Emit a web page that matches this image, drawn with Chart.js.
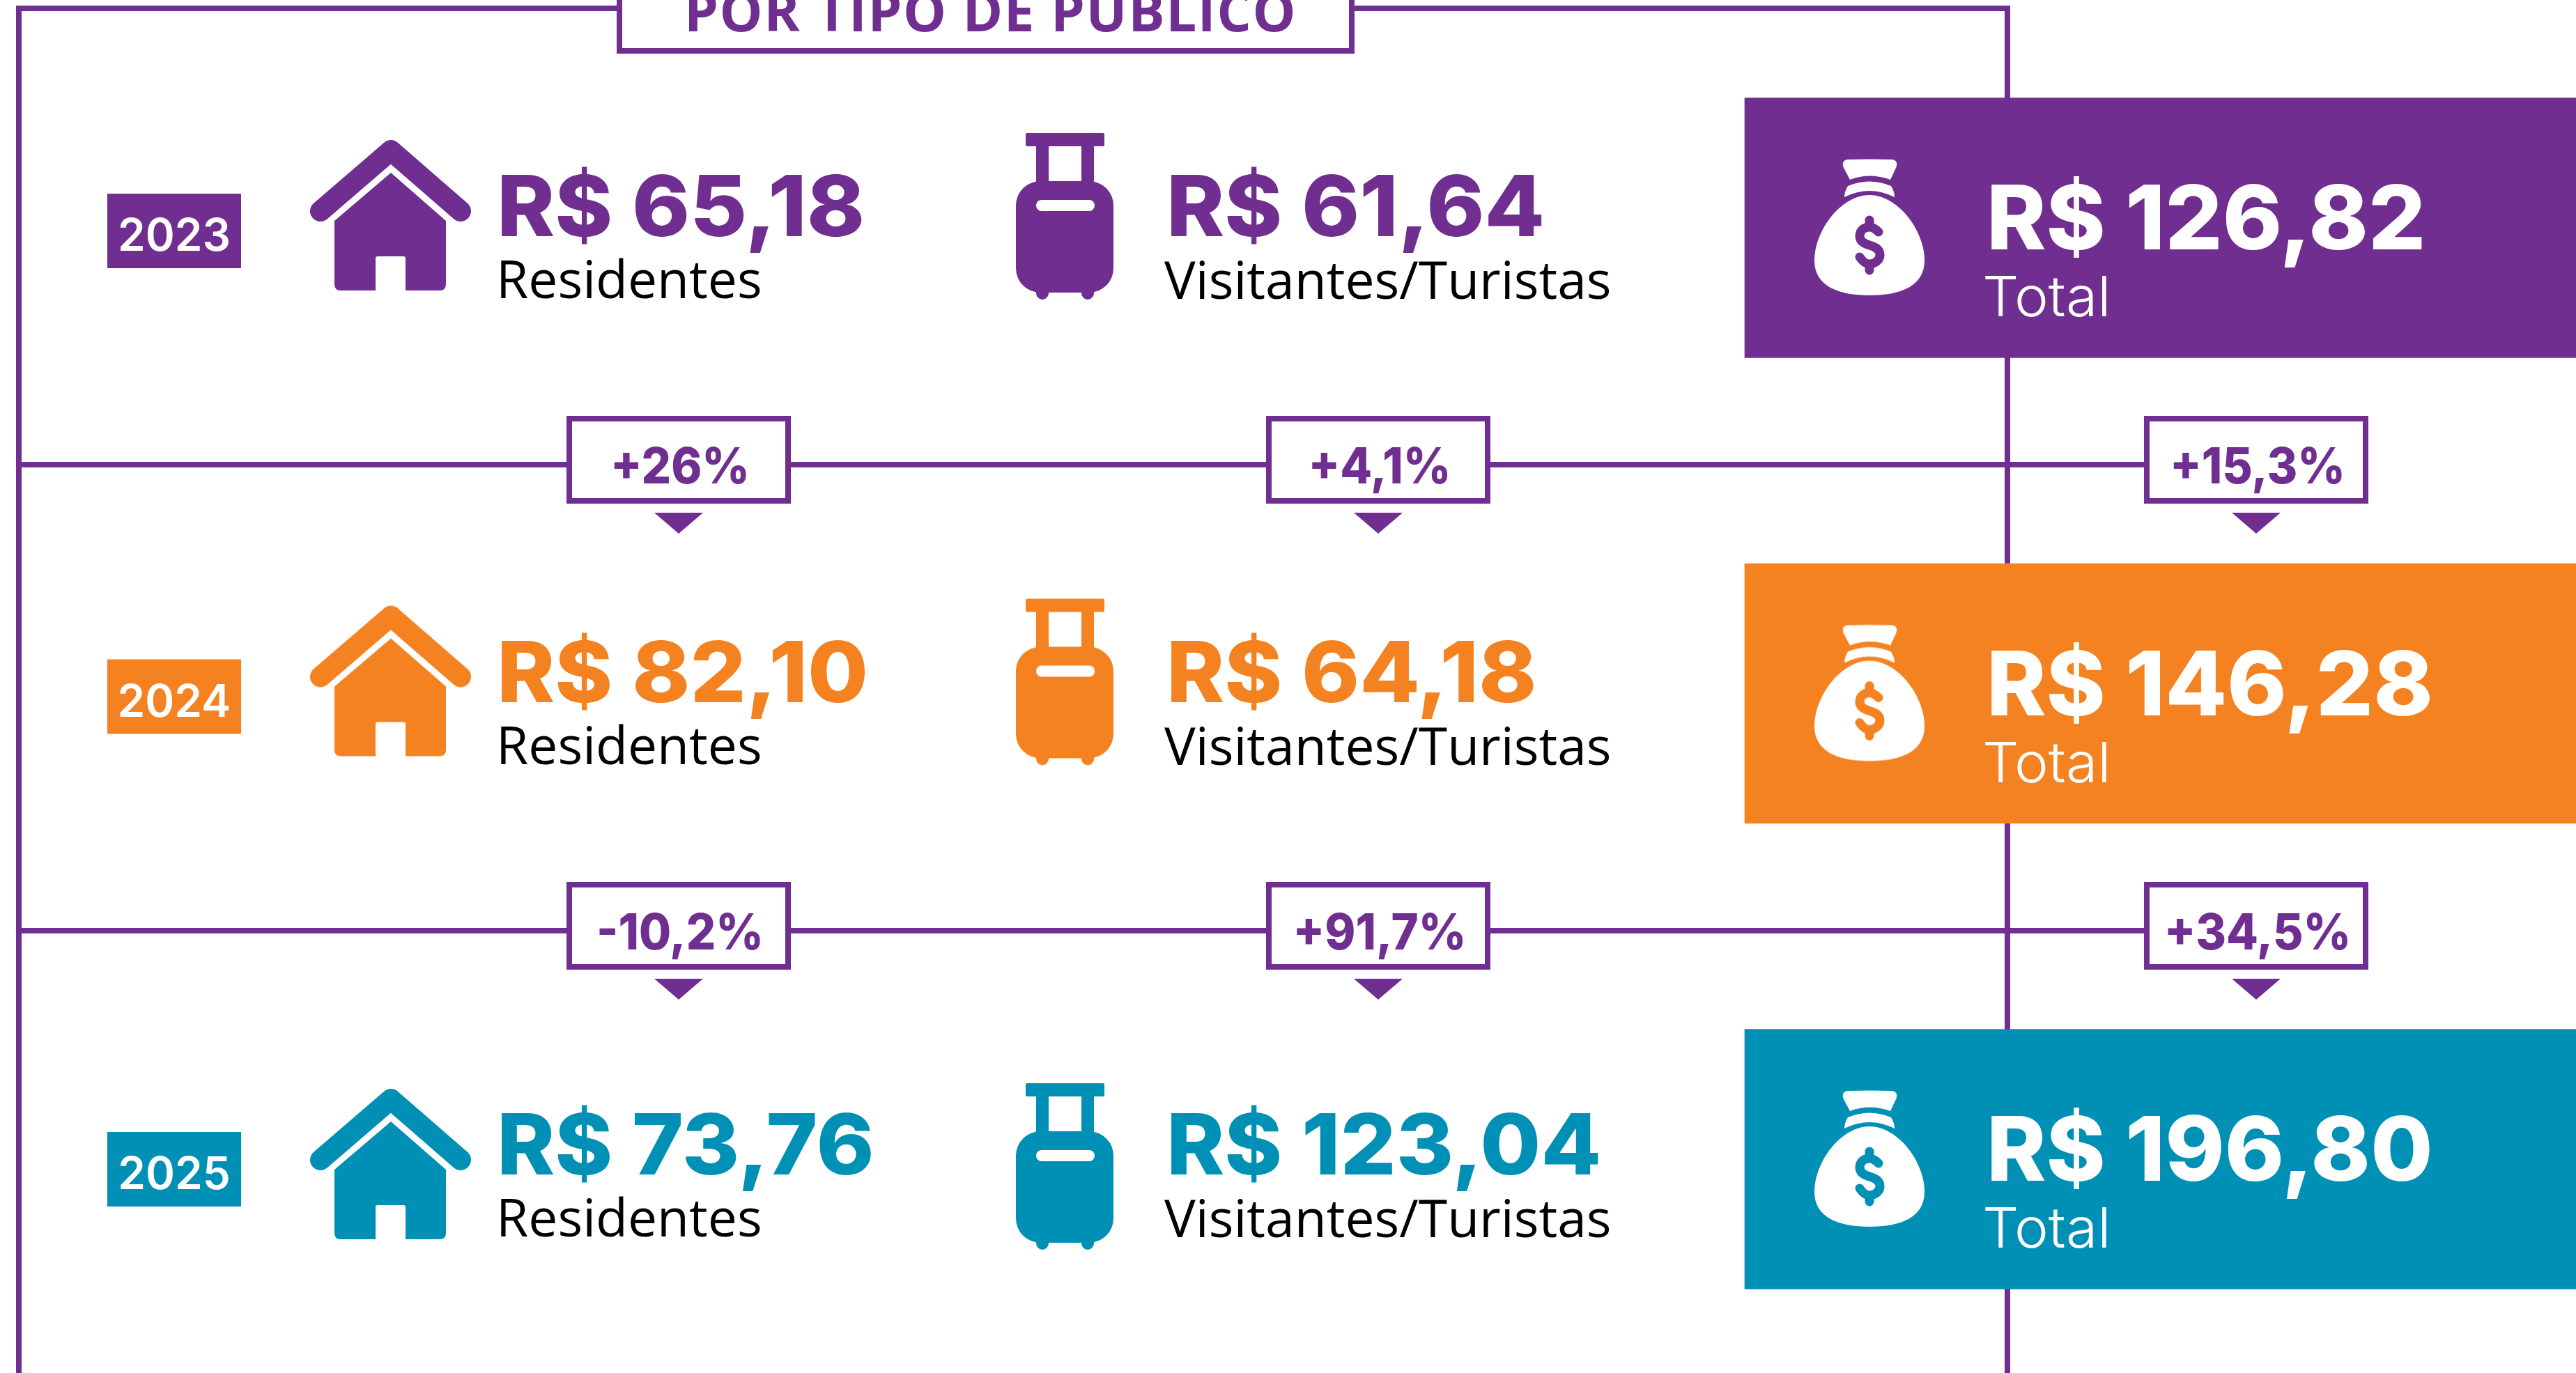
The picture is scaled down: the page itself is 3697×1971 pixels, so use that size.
<!DOCTYPE html>
<html lang="pt-BR">
<head>
<meta charset="utf-8">
<title>Por tipo de público</title>
<script src="https://cdn.jsdelivr.net/npm/chart.js@4/dist/chart.umd.min.js"></script>
<style>
  html, body { margin: 0; padding: 0; background: #fff; overflow: hidden; }
  canvas { display: block; }
</style>
</head>
<body>
<canvas id="chart" width="3697" height="1971"></canvas>
<script>
// --- data ---
const title = 'POR TIPO DE PÚBLICO';
const years = ['2023', '2024', '2025'];
const residentes = [65.18, 82.10, 73.76];
const visitantes = [61.64, 64.18, 123.04];
const totais = [126.82, 146.28, 196.80];
const varResidentes = ['+26%', '-10,2%'];
const varVisitantes = ['+4,1%', '+91,7%'];
const varTotais = ['+15,3%', '+34,5%'];
const labelResidentes = 'Residentes';
const labelVisitantes = 'Visitantes/Turistas';
const labelTotal = 'Total';

// --- look and layout ---
const PURPLE = '#6f2e90';
const rowColors = ['#6f2e90', '#f58220', '#0190b5'];
const NUM_FONT = 'Inter';
const LABEL_FONT = '"Open Sans"';

const columnX = { house: 561, suitcase: 1528, bag: 2683 };
const totalBox = { from: 2504, to: 3697, thickness: 373 };
const houseNudge = [-18, -18, 7];     // house and suitcase sit a bit off the row centre
const suitcaseNudge = [-16, -16, 11];
const textNudge = [0, 0, 10];         // left hand texts drift in the last row
const separators = [667, 1336];
const frameLeft = 27, frameRight = 2881, frameTop = 12;
const deltaCols = [974, 1978, 3238];

function brl(v) {
    return 'R$ ' + v.toFixed(2).replace('.', ',');
}

// icons go on canvases, chart.js draws them as point styles
function makeIcon(w, h, paint) {
    const c = document.createElement('canvas');
    c.width = w + 20;
    c.height = h + 20;
    const ctx = c.getContext('2d');
    ctx.translate(10, 10);
    paint(ctx);
    return c;
}

function cutOut(ctx, fn) {
    ctx.save();
    ctx.globalCompositeOperation = 'destination-out';
    ctx.fillStyle = '#000';
    fn();
    ctx.restore();
}

function houseIcon(color) {
    return makeIcon(232, 218, ctx => {
        ctx.strokeStyle = color;
        ctx.fillStyle = color;
        ctx.lineWidth = 30;
        ctx.lineCap = 'round';
        ctx.lineJoin = 'round';
        ctx.beginPath();
        ctx.moveTo(15, 103);
        ctx.lineTo(116, 16);
        ctx.lineTo(216, 103);
        ctx.stroke();
        ctx.beginPath();
        ctx.moveTo(116, 48);
        ctx.lineTo(195, 117);
        ctx.lineTo(195, 208);
        ctx.quadraticCurveTo(195, 217, 186, 217);
        ctx.lineTo(44, 217);
        ctx.quadraticCurveTo(35, 217, 35, 208);
        ctx.lineTo(35, 117);
        ctx.closePath();
        ctx.fill();
        cutOut(ctx, () => {
            ctx.beginPath();
            ctx.roundRect(94, 168, 43, 60, 3);
            ctx.fill();
        });
    });
}

function suitcaseIcon(color) {
    return makeIcon(140, 240, ctx => {
        ctx.fillStyle = color;
        ctx.beginPath();
        ctx.roundRect(14, 0, 113, 19, 2);
        ctx.rect(29, 19, 18, 55);
        ctx.rect(94, 19, 18, 55);
        ctx.roundRect(0, 69, 140, 160, 35);
        ctx.roundRect(29, 215, 18, 24, 9);
        ctx.roundRect(94, 215, 18, 24, 9);
        ctx.fill();
        cutOut(ctx, () => {
            ctx.beginPath();
            ctx.roundRect(29, 96, 84, 16, 8);
            ctx.fill();
        });
    });
}

function bagIcon(color) {
    return makeIcon(158, 196, ctx => {
        ctx.fillStyle = '#fff';
        // knot
        ctx.beginPath();
        ctx.moveTo(47, 0);
        ctx.quadraticCurveTo(79, -1, 112, 0);
        ctx.quadraticCurveTo(121, 2, 117, 12);
        ctx.lineTo(109, 29);
        ctx.quadraticCurveTo(79, 18, 51, 29);
        ctx.lineTo(42, 12);
        ctx.quadraticCurveTo(38, 2, 47, 0);
        ctx.fill();
        // band
        ctx.beginPath();
        ctx.moveTo(48, 38);
        ctx.quadraticCurveTo(79, 25, 110, 38);
        ctx.quadraticCurveTo(115, 46, 115, 54);
        ctx.quadraticCurveTo(79, 36, 43, 54);
        ctx.quadraticCurveTo(43, 46, 48, 38);
        ctx.fill();
        // body
        ctx.beginPath();
        ctx.moveTo(79, 51);
        ctx.bezierCurveTo(38, 51, 0, 102, 0, 145);
        ctx.bezierCurveTo(0, 182, 35, 195, 79, 195);
        ctx.bezierCurveTo(123, 195, 158, 182, 158, 145);
        ctx.bezierCurveTo(158, 102, 120, 51, 79, 51);
        ctx.fill();
        // dollar sign
        ctx.strokeStyle = color;
        ctx.lineWidth = 13;
        ctx.lineCap = 'round';
        ctx.beginPath();
        ctx.moveTo(92, 104);
        ctx.quadraticCurveTo(85, 97, 79, 97);
        ctx.bezierCurveTo(70, 97, 65, 103, 65, 110);
        ctx.bezierCurveTo(65, 118, 72, 121, 79, 123);
        ctx.bezierCurveTo(87, 125, 94, 129, 94, 137);
        ctx.bezierCurveTo(94, 144, 87, 150, 79, 150);
        ctx.bezierCurveTo(73, 150, 69, 146, 65, 140);
        ctx.moveTo(79, 87);
        ctx.lineTo(79, 97);
        ctx.moveTo(79, 150);
        ctx.lineTo(79, 159);
        ctx.stroke();
    });
}

function text(ctx, str, x, y, font, color, sx = 1, align = 'left', spacing = '0px') {
    ctx.save();
    ctx.font = font;
    ctx.fillStyle = color;
    ctx.textAlign = align;
    ctx.textBaseline = 'alphabetic';
    ctx.letterSpacing = spacing;
    ctx.translate(x, y);
    ctx.scale(sx, 1);
    ctx.fillText(str, 0, 0);
    ctx.restore();
}

// frame, separators and title box sit behind the datasets
const framePlugin = {
    id: 'frame',
    beforeDatasetsDraw(chart) {
        const ctx = chart.ctx;
        ctx.save();
        ctx.strokeStyle = PURPLE;
        ctx.lineWidth = 8;
        ctx.beginPath();
        ctx.moveTo(frameLeft, 1971);
        ctx.lineTo(frameLeft, frameTop);
        ctx.lineTo(frameRight, frameTop);
        ctx.lineTo(frameRight, 1971);
        separators.forEach(y => {
            ctx.moveTo(frameLeft, y);
            ctx.lineTo(3077, y);
        });
        ctx.stroke();
        ctx.fillStyle = '#fff';
        ctx.fillRect(889, -10, 1051, 83);
        ctx.strokeRect(889, -10, 1051, 83);
        ctx.restore();
        text(ctx, title, 982, 45, 'bold 78px ' + LABEL_FONT, PURPLE, 1, 'left', '1.6px');
    }
};

// texts are read from the arrays and hung on the y scale
const labelsPlugin = {
    id: 'labels',
    afterDatasetsDraw(chart) {
        const ctx = chart.ctx;
        const y = chart.scales.y;
        years.forEach((year, i) => {
            const mid = y.getPixelForValue(i);
            const n = textNudge[i];
            const color = rowColors[i];
            const numFont = '800 121px ' + NUM_FONT;
            const labelFont = '75px ' + LABEL_FONT;

            // year badge
            ctx.fillStyle = color;
            ctx.fillRect(154, mid - 49 + n, 192, 107);
            text(ctx, year, 250, mid + 33 + n, '600 65px ' + NUM_FONT, '#fff', 0.98, 'center');

            text(ctx, brl(residentes[i]), 713, mid + 12 + n, numFont, color, 1.04);
            text(ctx, labelResidentes, 712, mid + 101 + n, labelFont, '#000');
            text(ctx, brl(visitantes[i]), 1674, mid + 12 + n, numFont, color, 1.04);
            text(ctx, labelVisitantes, 1671, mid + 102 + n, labelFont, '#000');

            text(ctx, brl(totais[i]), 2851, mid + 31, '800 128px ' + NUM_FONT, '#fff', 1.01);
            text(ctx, labelTotal, 2845, mid + 127, '300 80px ' + NUM_FONT, '#fff', 1.03);
        });

        // variation boxes between the rows
        separators.forEach((sep, r) => {
            [varResidentes, varVisitantes, varTotais].forEach((series, c) => {
                const cx = deltaCols[c];
                ctx.save();
                ctx.strokeStyle = PURPLE;
                ctx.lineWidth = 8;
                ctx.fillStyle = '#fff';
                ctx.fillRect(cx - 157, sep - 66, 314, 118);
                ctx.strokeRect(cx - 157, sep - 66, 314, 118);
                ctx.fillStyle = PURPLE;
                ctx.beginPath();
                ctx.moveTo(cx - 35, sep + 69);
                ctx.lineTo(cx + 35, sep + 69);
                ctx.lineTo(cx, sep + 99);
                ctx.closePath();
                ctx.fill();
                ctx.restore();
                text(ctx, series[r], cx + 2, sep + 27, '800 71px ' + NUM_FONT, PURPLE, 0.94, 'center');
            });
        });
    }
};

// house and suitcase are nudged once the scales have placed them
const nudgePlugin = {
    id: 'nudge',
    afterDatasetsUpdate(chart) {
        [[1, houseNudge], [2, suitcaseNudge]].forEach(([d, nudge]) => {
            chart.getDatasetMeta(d).data.forEach((pt, i) => {
                pt.y += nudge[i];
            });
        });
    }
};

function iconSeries(label, x, iconFn) {
    return {
        type: 'scatter',
        label,
        data: years.map(year => ({ x, y: year })),
        pointStyle: rowColors.map(iconFn),
        pointRadius: 200,
        pointHoverRadius: 200,
        xAxisID: 'x',
        yAxisID: 'y',
        clip: false,
        order: 0
    };
}

new Chart(document.getElementById('chart'), {
    type: 'bar',
    data: {
        labels: years,
        datasets: [
            {
                type: 'bar',
                indexAxis: 'y',
                label: labelTotal,
                data: totais.map(() => [totalBox.from, totalBox.to]),
                backgroundColor: rowColors,
                barThickness: totalBox.thickness,
                xAxisID: 'x',
                yAxisID: 'y',
                clip: false,
                order: 1
            },
            iconSeries(labelResidentes, columnX.house, houseIcon),
            iconSeries(labelVisitantes, columnX.suitcase, suitcaseIcon),
            iconSeries(labelTotal, columnX.bag, bagIcon)
        ]
    },
    options: {
        responsive: false,
        animation: false,
        layout: { autoPadding: false, padding: { top: 327, bottom: 307, left: 0, right: 0 } },
        scales: {
            // the bar defaults give x an offset, that has to go
            x: { type: 'linear', min: 0, max: 3697, offset: false, display: false },
            y: { type: 'category', offset: false, display: false }
        },
        plugins: {
            legend: { display: false },
            tooltip: { enabled: false }
        }
    },
    plugins: [framePlugin, labelsPlugin, nudgePlugin]
});
</script>
</body>
</html>
